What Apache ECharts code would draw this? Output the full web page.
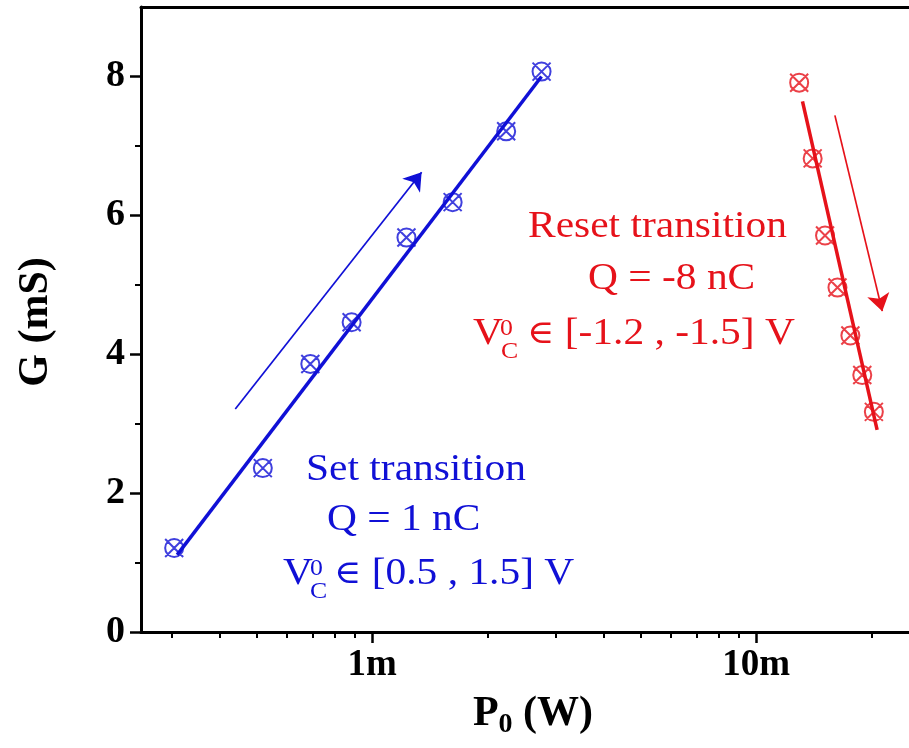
<!DOCTYPE html>
<html>
<head>
<meta charset="utf-8">
<script src="https://cdn.jsdelivr.net/npm/echarts@6/dist/echarts.min.js"></script>
<style>
  html, body { margin: 0; padding: 0; background: #ffffff; }
  #chart { width: 909px; height: 748px; }
</style>
</head>
<body>
<div id="chart"></div>
<script>
// Conductance G (mS) versus applied power P0 (W)
const setP = [0.305e-3, 0.519e-3, 0.690e-3, 0.884e-3, 1.228e-3, 1.620e-3, 2.233e-3, 2.761e-3];
const setG = [1.21, 2.36, 3.86, 4.46, 5.68, 6.19, 7.21, 8.07];
const resetP = [12.94e-3, 14.03e-3, 15.11e-3, 16.28e-3, 17.59e-3, 18.89e-3, 20.25e-3];
const resetG = [7.91, 6.82, 5.71, 4.96, 4.27, 3.70, 3.17];

// Linear fits (G vs log P), end points
const setFitP = [0.3105e-3, 2.76e-3];
const setFitG = [1.11, 8.00];
const resetFitP = [13.20e-3, 20.65e-3];
const resetFitG = [7.64, 2.91];

// Direction arrows [start, end]
const setArrowP = [0.440e-3, 1.345e-3];
const setArrowG = [3.21, 6.62];
const resetArrowP = [16.03e-3, 21.30e-3];
const resetArrowG = [7.44, 4.62];

// Axis ticks
const xMajorTicks = [1e-3, 1e-2];
const xTickLabels = ['1m', '10m'];
const xMinorTicks = [0.3e-3, 0.4e-3, 0.5e-3, 0.6e-3, 0.7e-3, 0.8e-3, 0.9e-3,
  2e-3, 3e-3, 4e-3, 5e-3, 6e-3, 7e-3, 8e-3, 9e-3, 20e-3];
const yMajorTicks = [0, 2, 4, 6, 8];
const yMinorTicks = [1, 3, 5, 7];

const BLUE = '#1010d6';
const RED = '#e6121a';
const SERIF = '"Liberation Serif", "Times New Roman", serif';

const pairs = (xs, ys) => xs.map((x, i) => [x, ys[i]]);

// circle with a cross through it
const CROSS_CIRCLE = 'path://M0,8A8,8 0 1,1 16,8A8,8 0 1,1 0,8Z M0,0L16,16 M16,0L0,16';

function markerSeries(xs, ys, color) {
  return {
    type: 'scatter',
    data: pairs(xs, ys),
    symbol: CROSS_CIRCLE,
    symbolSize: 18,
    itemStyle: { color: 'rgba(0,0,0,0)', borderColor: color, borderWidth: 2 },
    z: 5
  };
}
function fitSeries(xs, ys, color) {
  return {
    type: 'line',
    data: pairs(xs, ys),
    showSymbol: false,
    symbol: 'none',
    lineStyle: { color: color, width: 3.5 },
    z: 4
  };
}
function arrowSeries(xs, ys, color) {
  return {
    type: 'lines',
    coordinateSystem: 'cartesian2d',
    data: [{ coords: pairs(xs, ys) }],
    symbol: ['none', 'arrow'],
    symbolSize: [11, 17],
    lineStyle: { color: color, width: 1.7, opacity: 1 },
    z: 3
  };
}

// annotation text helper: x = left edge, base = baseline
const SX = 1.12;
function txt(text, x, base, size, color) {
  return {
    type: 'text', x: x, y: base - 0.34 * size, scaleX: SX,
    style: { text: text, font: size + 'px ' + SERIF, fill: color,
             align: 'left', verticalAlign: 'middle' }
  };
}
// element-of sign followed by the interval
function interval(rest, x, base, color) {
  return {
    type: 'text', x: x, y: base - 0.34 * 37, scaleX: SX,
    style: {
      text: '{e|\u2208}{t|' + rest + '}', align: 'left', verticalAlign: 'middle',
      rich: {
        e: { font: '33px "DejaVu Serif", serif', fill: color, lineHeight: 40 },
        t: { font: '37px ' + SERIF, fill: color, lineHeight: 40 }
      }
    }
  };
}

const chart = echarts.init(document.getElementById('chart'), null, { renderer: 'canvas' });

const xLog = { type: 'log', min: 0.25e-3, max: 25e-3, splitLine: { show: false } };

chart.setOption({
  animation: false,
  backgroundColor: '#ffffff',
  grid: { left: 141, right: -8, top: 7, bottom: 116, containLabel: false },
  xAxis: [
    Object.assign({}, xLog, {
      position: 'bottom',
      axisLine: { lineStyle: { color: '#000', width: 3 } },
      axisTick: { inside: false, length: 11, lineStyle: { color: '#000', width: 2.5 },
                  customValues: xMajorTicks },
      axisLabel: { customValues: xMajorTicks, margin: 15, color: '#000',
                   fontFamily: SERIF, fontWeight: 'bold', fontSize: 37,
                   formatter: v => {
                     let best = 0;
                     xMajorTicks.forEach((t, i) => {
                       if (Math.abs(Math.log10(t) - Math.log10(v)) <
                           Math.abs(Math.log10(xMajorTicks[best]) - Math.log10(v))) best = i;
                     });
                     return xTickLabels[best];
                   } }
    }),
    Object.assign({}, xLog, {
      position: 'bottom',
      axisLine: { show: false },
      axisTick: { inside: false, length: 6, lineStyle: { color: '#000', width: 2 },
                  customValues: xMinorTicks },
      axisLabel: { show: false }
    }),
    Object.assign({}, xLog, {
      position: 'top',
      axisLine: { lineStyle: { color: '#000', width: 3 } },
      axisTick: { show: false },
      axisLabel: { show: false }
    })
  ],
  yAxis: [
    {
      type: 'value', min: 0, max: 9, position: 'left',
      splitLine: { show: false },
      axisLine: { lineStyle: { color: '#000', width: 3 } },
      axisTick: { inside: false, length: 11, lineStyle: { color: '#000', width: 2.5 },
                  customValues: yMajorTicks },
      axisLabel: { customValues: yMajorTicks, margin: 16, color: '#000',
                   fontFamily: SERIF, fontWeight: 'bold', fontSize: 38 }
    },
    {
      type: 'value', min: 0, max: 9, position: 'left',
      splitLine: { show: false },
      axisLine: { show: false },
      axisTick: { inside: false, length: 6, lineStyle: { color: '#000', width: 2 },
                  customValues: yMinorTicks },
      axisLabel: { show: false }
    }
  ],
  series: [
    fitSeries(setFitP, setFitG, BLUE),
    markerSeries(setP, setG, BLUE),
    arrowSeries(setArrowP, setArrowG, BLUE),
    fitSeries(resetFitP, resetFitG, RED),
    markerSeries(resetP, resetG, RED),
    arrowSeries(resetArrowP, resetArrowG, RED)
  ],
  graphic: [
    // axis titles
    {
      type: 'text', x: 36, y: 322, rotation: Math.PI / 2,
      style: { text: 'G (mS)', font: 'bold 42px ' + SERIF, fill: '#000',
               align: 'center', verticalAlign: 'middle' }
    },
    {
      type: 'text', x: 533, y: 716,
      style: {
        text: '{m|P}{s|0}{m| (W)}', align: 'center', verticalAlign: 'middle',
        rich: {
          m: { font: 'bold 42px ' + SERIF, fill: '#000', lineHeight: 46, verticalAlign: 'top' },
          s: { font: 'bold 28px ' + SERIF, fill: '#000', lineHeight: 26, verticalAlign: 'bottom' }
        }
      }
    },
    // set transition annotation
    txt('Set transition', 306, 483, 37, BLUE),
    txt('Q = 1 nC', 327, 533, 37, BLUE),
    txt('V', 283, 587, 37, BLUE),
    txt('0', 310, 577, 23, BLUE),
    txt('C', 310, 600, 23, BLUE),
    interval(' [0.5 , 1.5] V', 334, 587, BLUE),
    // reset transition annotation
    txt('Reset transition', 528, 240, 37, RED),
    txt('Q = -8 nC', 588, 292, 37, RED),
    txt('V', 473, 347, 37, RED),
    txt('0', 500, 337, 23, RED),
    txt('C', 501, 360, 23, RED),
    interval(' [-1.2 , -1.5] V', 527, 347, RED)
  ]
});
</script>
</body>
</html>
